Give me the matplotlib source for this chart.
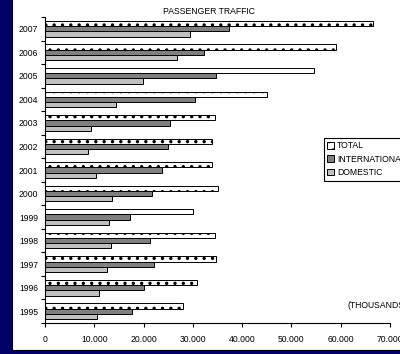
import numpy as np
import matplotlib.pyplot as plt
from matplotlib.patches import Rectangle
from matplotlib.ticker import FuncFormatter

anos = ["1995", "1996", "1997", "1998", "1999", "2000", "2001",
        "2002", "2003", "2004", "2005", "2006", "2007"]
total = [27900, 30900, 34600, 34500, 30100, 35200, 33800,
         33800, 34500, 45000, 54650, 59000, 66550]
internacional = [17600, 20100, 22100, 21300, 17250, 21800, 23700,
                 25000, 25400, 30400, 34700, 32300, 37300]
domestico = [10500, 11000, 12500, 13400, 13050, 13500, 10300,
             8800, 9270, 14500, 19950, 26800, 29400]

plt.rcParams['hatch.linewidth'] = 1.2
plt.rcParams['font.family'] = 'Liberation Sans'

fig = plt.figure(figsize=(4, 3.54), dpi=100, facecolor='#000066')
# bijela podloga
fig.patches.append(Rectangle((12/400, 4/354), 1.0, 1.0, transform=fig.transFigure,
                             facecolor='white', edgecolor='black', linewidth=0.8, zorder=-5))

ax = fig.add_axes([45/400, 1 - 323/354, 345/400, (323 - 17)/354])
ax.set_facecolor('white')
ax.patch.set_alpha(0)

y = np.arange(len(anos))
h = 0.222
ax.barh(y + h, total, height=h, color='white', edgecolor='black', hatch='..',
        linewidth=0.7, label='TOTAL')
ax.barh(y, internacional, height=h, color='#808080', edgecolor='black',
        linewidth=0.7, label='INTERNATIONAL')
ax.barh(y - h, domestico, height=h, color='#c0c0c0', edgecolor='black',
        linewidth=0.7, label='DOMESTIC')

ax.set_xlim(0, 70000)
ax.set_ylim(-0.5, len(anos) - 0.5)
ax.set_xticks(range(0, 70001, 10000))
ax.xaxis.set_major_formatter(FuncFormatter(lambda v, p: "0" if v == 0 else f"{int(v):,}".replace(",", ".")))
ax.set_yticks(y)
ax.set_yticklabels(anos)
ax.set_yticks(np.arange(-0.5, len(anos), 1), minor=True)
ax.tick_params(axis='y', which='major', length=0, labelsize=6.2, pad=5)
ax.tick_params(axis='y', which='minor', length=3, width=0.8, direction='out')
ax.tick_params(axis='x', length=3, width=0.8, labelsize=6.2, pad=6)
for s in ['top', 'right']:
    ax.spines[s].set_visible(False)
for s in ['left', 'bottom']:
    ax.spines[s].set_linewidth(0.8)

fig.text(209/400, 1 - 12/354, "PASSENGER TRAFFIC", ha='center', va='center', fontsize=6.2)
fig.text(348/400, 1 - 305/354, "(THOUSANDS)", ha='left', va='center', fontsize=6.2)

leg = fig.legend(loc='upper left', bbox_to_anchor=(324/400, 1 - 138/354), fontsize=6.2,
                 frameon=True, fancybox=False, edgecolor='black', framealpha=1,
                 handlelength=0.8, handleheight=0.8, handletextpad=0.3,
                 borderpad=0.4, labelspacing=0.5, borderaxespad=0)
leg.get_frame().set_linewidth(0.8)

fig.savefig("out.png", dpi=100, facecolor=fig.get_facecolor())
